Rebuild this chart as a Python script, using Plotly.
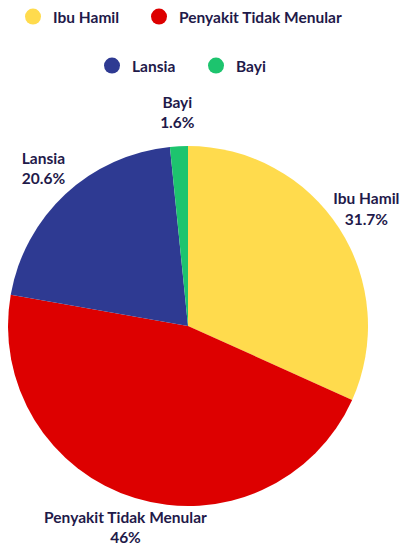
import math
import plotly.graph_objects as go

categories = ["Ibu Hamil", "Penyakit Tidak Menular", "Lansia", "Bayi"]
values = [31.7, 46, 20.6, 1.6]
colors = ["#FFDB4D", "#DD0000", "#2E3A92", "#1DC46E"]

TEXT = "#1F1A4A"
FONT = "Lato"
FSIZE = 15.5

# figure + pie geometry (pixels)
W, H = 401, 558
CX, CY, R = 188, 326, 180
dom_x = [(CX - R) / W, (CX + R) / W]
dom_y = [1 - (CY + R) / H, 1 - (CY - R) / H]

fig = go.Figure()
fig.add_trace(go.Pie(
    labels=categories,
    values=values,
    sort=False,
    direction="clockwise",
    rotation=0,
    marker=dict(colors=colors, line=dict(width=0)),
    textinfo="none",
    showlegend=False,
    automargin=False,
    domain=dict(x=dom_x, y=dom_y),
    hoverinfo="label+percent",
))

# outside labels at each slice's middle angle, on a hidden cartesian frame
# where the pie is the unit circle
total = sum(values)
label_x, label_y = [], []
acc = 0
LABEL_R = 1.18
for v in values:
    a = math.radians((acc + v / 2) / total * 360)
    label_x.append(LABEL_R * math.sin(a))
    label_y.append(LABEL_R * math.cos(a))
    acc += v
label_texts = [f"{c}<br>{v:g}%" for c, v in zip(categories, values)]

fig.add_trace(go.Scatter(
    x=label_x, y=label_y,
    mode="text",
    text=label_texts,
    textposition="middle center",
    textfont=dict(family=FONT, size=FSIZE, color=TEXT, weight="bold"),
    cliponaxis=False,
    showlegend=False,
    hoverinfo="skip",
))

# legend entries (circle markers), one legend per entry to match placement
legend_ids = ["legend", "legend2", "legend3", "legend4"]
legend_x_px = [13, 139, 92, 196]
legend_y_px = [17, 17, 66, 66]

for name, col, lg in zip(categories, colors, legend_ids):
    fig.add_trace(go.Scatter(
        x=[None], y=[None], mode="markers", name=name,
        marker=dict(symbol="circle", size=18, color=col),
        legend=lg, hoverinfo="skip",
    ))

legend_common = dict(
    orientation="h",
    font=dict(family=FONT, size=FSIZE, color=TEXT, weight="bold"),
    bgcolor="rgba(0,0,0,0)",
    yanchor="middle",
    xanchor="left",
    itemclick=False,
    itemdoubleclick=False,
)
legends = {}
for lg, xp, yp in zip(legend_ids, legend_x_px, legend_y_px):
    legends[lg] = dict(**legend_common, x=xp / W, y=1 - yp / H)

# axis ranges so that the unit circle coincides with the pie
x_range = [(0 - CX) / R, (W - CX) / R]
y_range = [(CY - H) / R, CY / R]

fig.update_layout(
    width=W, height=H,
    margin=dict(l=0, r=0, t=0, b=0),
    paper_bgcolor="white",
    plot_bgcolor="rgba(0,0,0,0)",
    font=dict(family=FONT, color=TEXT),
    xaxis=dict(visible=False, range=x_range, domain=[0, 1], fixedrange=True),
    yaxis=dict(visible=False, range=y_range, domain=[0, 1], fixedrange=True),
    **legends,
)

fig.write_html("out.html")
